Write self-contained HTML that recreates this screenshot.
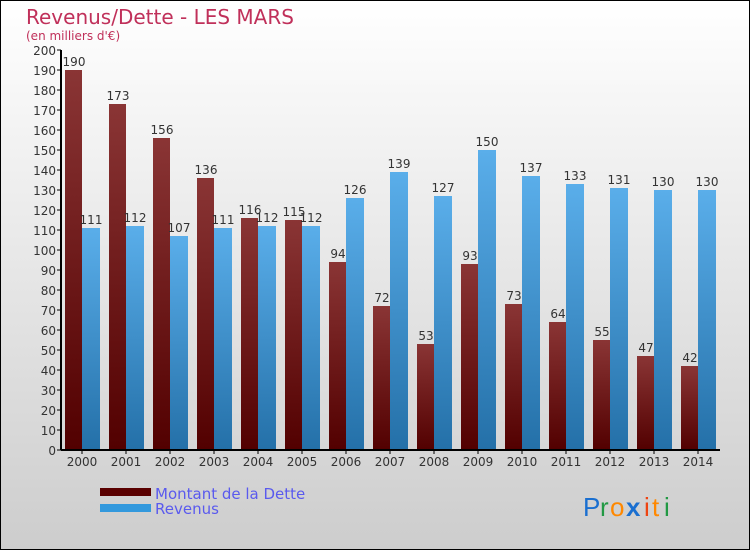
<!DOCTYPE html>
<html><head><meta charset="utf-8"><style>
html,body{margin:0;padding:0}
body{width:750px;height:550px;overflow:hidden;font-family:"DejaVu Sans","Liberation Sans",sans-serif}
</style></head><body>
<svg id="c" width="750" height="550" xmlns="http://www.w3.org/2000/svg">
<defs>
<linearGradient id="bg" x1="0" y1="0" x2="0" y2="1"><stop offset="0" stop-color="#ffffff"/><stop offset="1" stop-color="#cdcdcd"/></linearGradient>
<linearGradient id="red" x1="0" y1="0" x2="0" y2="1"><stop offset="0" stop-color="#8a3535"/><stop offset="1" stop-color="#520000"/></linearGradient>
<linearGradient id="blue" x1="0" y1="0" x2="0" y2="1"><stop offset="0" stop-color="#5aaeea"/><stop offset="1" stop-color="#2470a8"/></linearGradient>
</defs>
<rect x="0.5" y="0.5" width="749" height="549" fill="url(#bg)" stroke="#000"/>
<text x="26" y="24" font-size="20" fill="#c0305a">Revenus/Dette - LES MARS</text>
<text x="26" y="40" font-size="12" fill="#c0305a">(en milliers d'€)</text>
<g id="plot"></g>
<rect x="100" y="488" width="51" height="8" fill="#5a0000"/>
<rect x="100" y="504" width="51" height="8" fill="#3399dd"/>
<text x="155" y="499" font-size="15" fill="#5a5aee">Montant de la Dette</text>
<text x="155" y="514" font-size="15" fill="#5a5aee">Revenus</text>
<g font-size="26" font-family="'Liberation Sans',sans-serif">
<text x="583" y="516" fill="#1a6fd0">P</text><text x="600" y="516" fill="#229944">r</text><text x="610" y="516" fill="#ff8800">o</text><text x="626" y="516" fill="#1a6fd0" font-weight="bold">x</text><text x="644" y="516" fill="#ee4411">i</text><text x="652" y="516" fill="#ff8800">t</text><text x="664" y="516" fill="#229944">i</text>
</g>
</svg>
<script>
const years=["2000","2001","2002","2003","2004","2005","2006","2007","2008","2009","2010","2011","2012","2013","2014"];
const dette=[190,173,156,136,116,115,94,72,53,93,73,64,55,47,42];
const revenus=[111,112,107,111,112,112,126,139,127,150,137,133,131,130,130];
const yTicks=[0,10,20,30,40,50,60,70,80,90,100,110,120,130,140,150,160,170,180,190,200];
const NS="http://www.w3.org/2000/svg";
const g=document.getElementById('plot');
const x0=61,step=44,yBase=450,yTop=50,maxV=200;
const y=v=>yBase-(v/maxV)*(yBase-yTop);
const gx=i=>x0+4+i*step;
function mk(t,a){const e=document.createElementNS(NS,t);for(const k in a)e.setAttribute(k,a[k]);g.appendChild(e);return e;}
yTicks.forEach(v=>{
 const l=mk('line',{x1:x0-4,x2:x0,y1:y(v),y2:y(v),stroke:'#000'});
 
 
 const t=mk('text',{x:x0-5,y:y(v)+5,'font-size':12,'text-anchor':'end',fill:'#333'});
 t.textContent=v;
 
 
});
years.forEach((yr,i)=>{
 const bx=gx(i);
 const r1=mk('rect',{x:bx,y:y(dette[i]),width:17,height:yBase-y(dette[i]),fill:'url(#red)'});
 
 
 const r2=mk('rect',{x:bx+17,y:y(revenus[i]),width:18,height:yBase-y(revenus[i]),fill:'url(#blue)'});
 
 
 const t1=mk('text',{x:bx+9,y:y(dette[i])-4,'font-size':12,'text-anchor':'middle',fill:'#333'});
 t1.textContent=dette[i];
 
 
 const t2=mk('text',{x:bx+26,y:y(revenus[i])-4,'font-size':12,'text-anchor':'middle',fill:'#333'});
 t2.textContent=revenus[i];
 
 
 const tk=mk('line',{x1:bx+17,x2:bx+17,y1:yBase,y2:yBase+4,stroke:'#000'});
 
 
 const xl=mk('text',{x:bx+17,y:yBase+16,'font-size':12,'text-anchor':'middle',fill:'#333'});
 xl.textContent=yr;
 
 
});
const ax=mk('line',{x1:x0,x2:x0,y1:yTop,y2:yBase,stroke:'#000','stroke-width':2});


const bx=mk('line',{x1:x0,x2:720,y1:yBase,y2:yBase,stroke:'#000','stroke-width':2});


</script>
</body></html>
